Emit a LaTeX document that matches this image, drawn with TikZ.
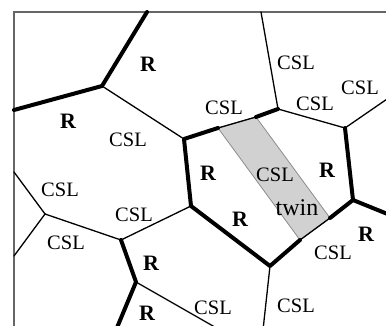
\documentclass[tikz,border=0pt]{standalone}
\usepackage{fontspec}
\setmainfont{Liberation Serif}
\begin{document}
\begin{tikzpicture}[x=1pt,y=-1pt,
  boundary/.style={line width=4pt,line cap=round,line join=round},
  csl/.style={line width=1.3pt,line cap=round},
  frameline/.style={draw=black!60,line width=1.8pt},
  bandfill/.style={fill=black!18,draw=black!45,line width=0.8pt},
  rlabel/.style={inner sep=0pt,font=\fontsize{22}{22}\selectfont\bfseries},
  clabel/.style={inner sep=0pt,font=\fontsize{20.5}{20.5}\selectfont},
  tlabel/.style={inner sep=0pt,font=\fontsize{24}{24}\selectfont}]
\useasboundingbox (0,0) rectangle (386,326);

% triple junctions
\coordinate (A) at (102,86);
\coordinate (B) at (184,139);
\coordinate (C) at (278,109);
\coordinate (D) at (345,128);
\coordinate (E) at (353,200);
\coordinate (F) at (270,266);
\coordinate (G) at (191,206);
\coordinate (H) at (45,214);
\coordinate (I) at (121,240);
\coordinate (J) at (136,282);
% corners of the twin lamella
\coordinate (P1) at (218,128);
\coordinate (P2) at (256,117);
\coordinate (P3) at (330,218);
\coordinate (P4) at (300,240);
% points on the border of the section
\coordinate (T1) at (147,12);
\coordinate (T2) at (261,12);
\coordinate (L1) at (14,110);
\coordinate (L2) at (14,172);
\coordinate (L3) at (14,256);
\coordinate (R1) at (390,97);
\coordinate (R2) at (390,215);
\coordinate (B1) at (116,330);
\coordinate (B2) at (220,330);
\coordinate (B3) at (263,330);
\coordinate (TL) at (14,12);
\coordinate (TR) at (390,12);
\coordinate (BL) at (14,330);

% twin band
\draw[bandfill] (P1) -- (P2) -- (P3) -- (P4) -- cycle;

% frame
\draw[frameline] (TR) -- (TL) -- (BL);

% CSL boundaries
\draw[csl] (A) -- (B);
\draw[csl] (C) -- (T2);
\draw[csl] (C) -- (D);
\draw[csl] (D) -- (R1);
\draw[csl] (F) -- (B3);
\draw[csl] (H) -- (L2);
\draw[csl] (H) -- (L3);
\draw[csl] (H) -- (I);
\draw[csl] (I) -- (G);
\draw[csl] (J) -- (B2);
\draw[csl] (P1) -- (P2);
\draw[csl] (P3) -- (P4);

% random boundaries
\draw[boundary] (T1) -- (A) -- (L1);
\draw[boundary] (P1) -- (B) -- (G) -- (F) -- (P4);
\draw[boundary] (P2) -- (C);
\draw[boundary] (D) -- (E) -- (R2);
\draw[boundary] (E) -- (P3);
\draw[boundary] (I) -- (J) -- (B1);

% labels
\node[rlabel] (r1) at (148,64) {R};
\node[rlabel] (r2) at (68,121) {R};
\node[rlabel] (r3) at (208,173) {R};
\node[rlabel] (r4) at (327,170) {R};
\node[rlabel] (r5) at (240,219) {R};
\node[rlabel] (r6) at (366,234) {R};
\node[rlabel] (r7) at (151,263) {R};
\node[rlabel] (r8) at (147,313) {R};
\node[clabel] (c1) at (128,140) {CSL};
\node[clabel] (c2) at (224,108) {CSL};
\node[clabel] (c3) at (296,63) {CSL};
\node[clabel] (c4) at (315,104) {CSL};
\node[clabel] (c5) at (360,88) {CSL};
\node[clabel] (c6) at (275,175) {CSL};
\node[clabel] (c7) at (333,253) {CSL};
\node[clabel] (c8) at (296,306) {CSL};
\node[clabel] (c9) at (60,190) {CSL};
\node[clabel] (c10) at (66,243) {CSL};
\node[clabel] (c11) at (134,215) {CSL};
\node[clabel] (c12) at (213,308) {CSL};
\node[tlabel] (tw) at (297,208) {twin};
\end{tikzpicture}
\end{document}
